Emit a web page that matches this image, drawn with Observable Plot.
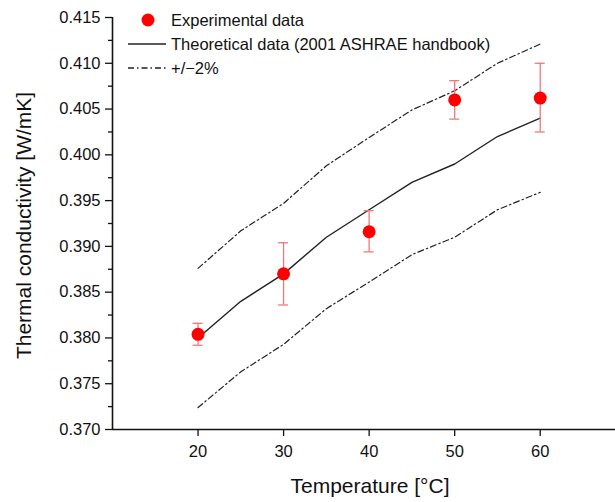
<!DOCTYPE html>
<html><head><meta charset="utf-8">
<script src="https://cdn.jsdelivr.net/npm/d3@7"></script>
<script src="https://cdn.jsdelivr.net/npm/@observablehq/plot@0.6"></script>
<style>
body{margin:0;background:#fff;font-family:"Liberation Sans",Arial,sans-serif;}
#wrap{position:relative;width:615px;height:502px;}
#legend{position:absolute;left:120px;top:8px;font-size:16.5px;color:#111;line-height:24px;}
#legend div{display:flex;align-items:center;height:24px;}
#legend svg{width:46px;height:24px;margin-right:5px;}
</style></head><body>
<div id="wrap"><div id="chart"></div>
<div id="legend">
<div><svg><circle cx="28" cy="12" r="6.5" fill="#ff0000"/></svg>Experimental data</div>
<div><svg><line x1="8" x2="46" y1="12" y2="12" stroke="#222" stroke-width="1.3"/></svg>Theoretical data (2001 ASHRAE handbook)</div>
<div><svg><line x1="8" x2="46" y1="12" y2="12" stroke="#222" stroke-width="1.3" stroke-dasharray="6,3,1.5,3"/></svg>+/&minus;2%</div>
</div></div>
<script>
const theoT = [20,25,30,35,40,45,50,55,60];
const theoK = [0.3800,0.3840,0.3870,0.3910,0.3940,0.3970,0.3990,0.4020,0.4040];
const upperK = [0.3876,0.3917,0.3947,0.3988,0.4019,0.4049,0.4070,0.4100,0.4121];
const lowerK = [0.3724,0.3763,0.3793,0.3832,0.3861,0.3891,0.3910,0.3940,0.3959];
const expT = [20,30,40,50,60];
const expK = [0.3804,0.3870,0.3916,0.4060,0.4062];
const expLo = [0.3792,0.3836,0.3894,0.4039,0.4025];
const expHi = [0.3816,0.3904,0.3939,0.4081,0.4100];
const yTicks = [0.370,0.375,0.380,0.385,0.390,0.395,0.400,0.405,0.410,0.415];
const yMinor = [0.3725,0.3775,0.3825,0.3875,0.3925,0.3975,0.4025,0.4075,0.4125];
const xTicks = [20,30,40,50,60];

const theo = theoT.map((t,i)=>({t,k:theoK[i],up:upperK[i],lo:lowerK[i]}));
const exp = expT.map((t,i)=>({t,k:expK[i],lo:expLo[i],hi:expHi[i]}));
const errColor = "#f07878";
const lineColor = "#222";

const chart = Plot.plot({
  width:615, height:502,
  marginLeft:112, marginTop:17, marginBottom:73, marginRight:0,
  style:{fontFamily:"Liberation Sans, Arial, sans-serif", background:"#fff", color:"#111"},
  x:{domain:[10,68.8]},
  y:{domain:[0.370,0.415]},
  marks:[
    Plot.axisY({ticks:yTicks, tickFormat:d3.format(".3f"), tickSize:7, tickPadding:5, fontSize:16.5, label:null, stroke:"#111", strokeWidth:1.3}),
    Plot.axisY({ticks:yMinor, tickFormat:()=>"", tickSize:4, label:null, stroke:"#111", strokeWidth:1.3}),
    Plot.axisX({ticks:xTicks, tickSize:7, tickPadding:9, fontSize:16.5, label:null, stroke:"#111", strokeWidth:1.3}),
    Plot.ruleX([10],{stroke:"#111", strokeWidth:1.6}),
    Plot.ruleY([0.370],{stroke:"#111", strokeWidth:1.6}),
    Plot.text(["Thermal conductivity [W/mK]"],{frameAnchor:"left", textAnchor:"middle", dx:-88, dy:2, rotate:-90, fontSize:21, fill:"#111"}),
    Plot.text(["Temperature [\u00B0C]"],{frameAnchor:"bottom", textAnchor:"middle", dy:63, fontSize:21, fill:"#111", dx:6}),
    Plot.line(theo,{x:"t", y:"up", stroke:lineColor, strokeWidth:1.2, strokeDasharray:"6,3,1.5,3"}),
    Plot.line(theo,{x:"t", y:"lo", stroke:lineColor, strokeWidth:1.2, strokeDasharray:"6,3,1.5,3"}),
    Plot.line(theo,{x:"t", y:"k", stroke:lineColor, strokeWidth:1.4}),
    Plot.ruleX(exp,{x:"t", y1:"lo", y2:"hi", stroke:errColor, strokeWidth:1.3}),
    Plot.ruleY(exp,{y:"lo", x1:"t", x2:"t", insetLeft:-5, insetRight:-5, stroke:errColor, strokeWidth:1.3}),
    Plot.ruleY(exp,{y:"hi", x1:"t", x2:"t", insetLeft:-5, insetRight:-5, stroke:errColor, strokeWidth:1.3}),
    Plot.dot(exp,{x:"t", y:"k", r:6.5, fill:"#ff0000", stroke:"none"})
  ]
});
document.getElementById("chart").appendChild(chart);
</script>
</body></html>
